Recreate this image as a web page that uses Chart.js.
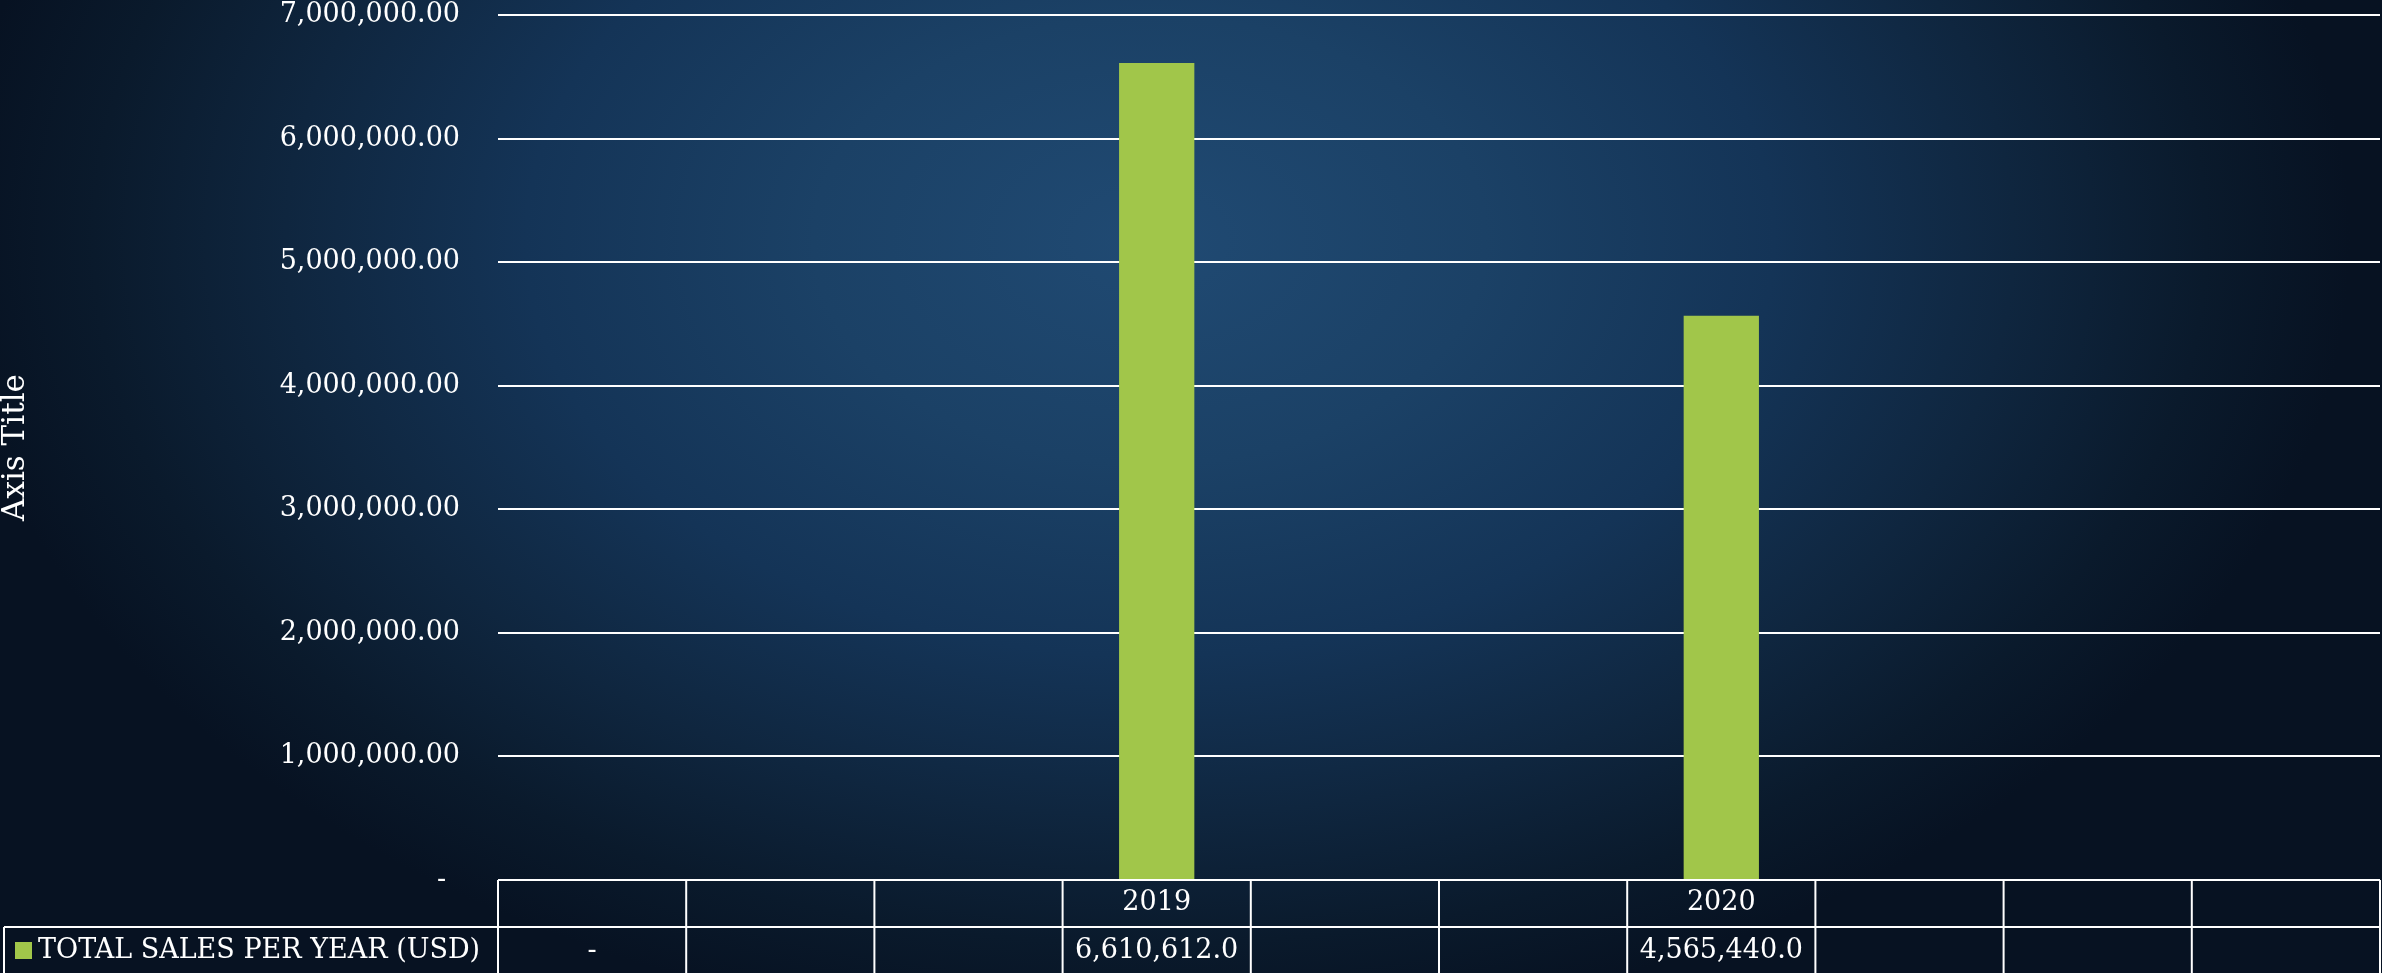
<!DOCTYPE html>
<html>
<head>
<meta charset="utf-8">
<script src="https://cdn.jsdelivr.net/npm/chart.js@4/dist/chart.umd.min.js"></script>
<style>
  html, body { margin: 0; padding: 0; width: 2382px; height: 973px; overflow: hidden; }
  body {
    background:
      radial-gradient(ellipse 1200px 800px at 1150px 240px, #204a73 0%, #1b4166 28%, #143457 52%, #0f263f 72%, #0a1a2c 88%, #071222 100%);
    background-color: #071222;
  }
  #wrap { position: absolute; left: 0; top: 0; width: 2382px; height: 973px; }
  canvas { display: block; }
</style>
</head>
<body>
<div id="wrap"><canvas id="c" width="2382" height="973"></canvas></div>
<script>
// ---- data ----
const categories = ['', '', '', '2019', '', '', '2020', '', '', ''];
const salesValues = [0, null, null, 6610612, null, null, 4565440, null, null, null];
const tableCells = ['-', '', '', '6,610,612.0', '', '', '4,565,440.0', '', '', ''];
const seriesName = 'TOTAL SALES PER YEAR (USD)';
const yTickValues = [0, 1000000, 2000000, 3000000, 4000000, 5000000, 6000000, 7000000];
const axisTitle = 'Axis Title';

const FONT = '"DejaVu Serif", "Liberation Serif", serif';
const BAR = '#a1c64a';

const tablePlugin = {
  id: 'dataTable',
  afterDraw(chart) {
    const ctx = chart.ctx;
    const xs = chart.scales.x;
    const area = chart.chartArea;
    const n = categories.length;
    const colW = (area.right - area.left) / n;
    const top = area.bottom;
    const mid = top + 47;
    const bottom = chart.height + 2;
    ctx.save();
    ctx.strokeStyle = '#ffffff';
    ctx.lineWidth = 2;
    ctx.beginPath();
    ctx.moveTo(area.left, top); ctx.lineTo(area.right, top);
    ctx.moveTo(4, mid); ctx.lineTo(area.right, mid);
    ctx.moveTo(4, mid); ctx.lineTo(4, bottom);
    for (let i = 0; i <= n; i++) {
      const x = i < n ? xs.getPixelForValue(i) - colW / 2 : xs.getPixelForValue(n - 1) + colW / 2;
      ctx.moveTo(x, top); ctx.lineTo(x, bottom);
    }
    ctx.stroke();
    ctx.fillStyle = '#ffffff';
    ctx.font = '27px ' + FONT;
    ctx.textAlign = 'center';
    ctx.textBaseline = 'middle';
    const rowY = mid + 24;
    tableCells.forEach((t, i) => {
      if (t) ctx.fillText(t, xs.getPixelForValue(i), rowY);
    });
    ctx.fillStyle = BAR;
    ctx.fillRect(15, 942, 17, 17);
    ctx.fillStyle = '#ffffff';
    ctx.textAlign = 'left';
    ctx.fillText(seriesName, 38, rowY);
    ctx.restore();
  }
};

new Chart(document.getElementById('c'), {
  type: 'bar',
  data: {
    labels: categories,
    datasets: [{
      label: seriesName,
      data: salesValues,
      backgroundColor: BAR,
      borderWidth: 0,
      barPercentage: 0.4,
      categoryPercentage: 1.0
    }]
  },
  options: {
    responsive: false,
    devicePixelRatio: 1,
    animation: false,
    layout: { padding: { top: 0, right: 2, bottom: 0, left: 0 } },
    plugins: { legend: { display: false }, tooltip: { enabled: false } },
    scales: {
      y: {
        min: 0,
        max: 7000000,
        afterBuildTicks(scale) { scale.ticks = yTickValues.map(v => ({ value: v })); },
        afterFit(scale) {
          scale.width = 498;
          scale.paddingTop = 15;
          scale.paddingBottom = 0;
        },
        border: { display: false },
        grid: { color: '#ffffff', lineWidth: 2, drawTicks: false },
        ticks: {
          color: '#ffffff',
          font: { family: FONT, size: 27 },
          padding: 38,
          callback(v) {
            if (v === 0) return '-\u00a0\u2009';
            return Number(v).toLocaleString('en-US', { minimumFractionDigits: 2, maximumFractionDigits: 2 });
          }
        },
        title: {
          display: true,
          text: axisTitle,
          color: '#ffffff',
          font: { family: FONT, size: 31, lineHeight: 1 },
          padding: 0
        }
      },
      x: {
        afterFit(scale) {
          scale.height = 93;
          scale.paddingLeft = 0;
          scale.paddingRight = 0;
        },
        border: { display: false },
        grid: { display: false, drawTicks: false },
        ticks: {
          color: '#ffffff',
          font: { family: FONT, size: 27 },
          padding: 7,
          maxRotation: 0,
          autoSkip: false
        }
      }
    }
  },
  plugins: [tablePlugin]
});
</script>
</body>
</html>
